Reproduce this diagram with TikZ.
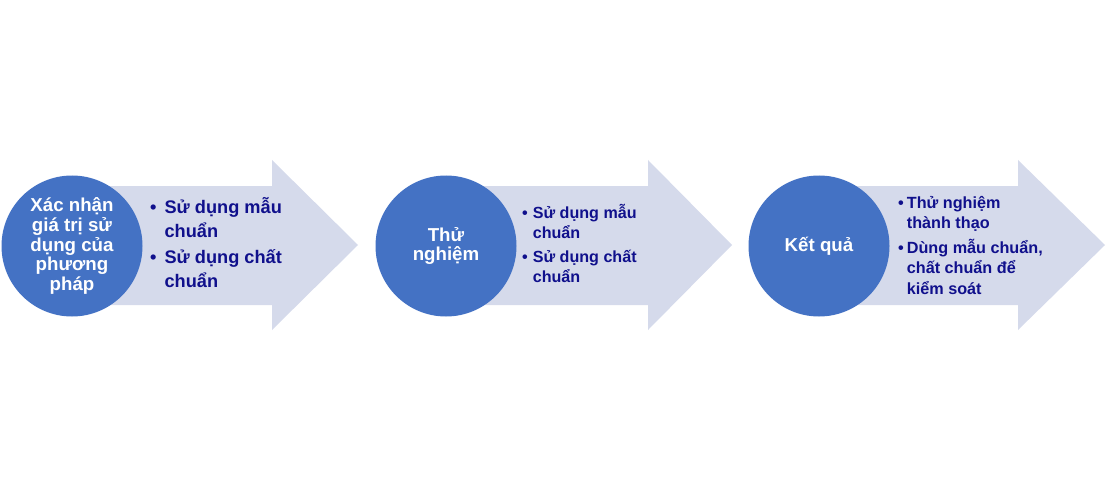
\documentclass[tikz,border=0pt]{standalone}
\usepackage{fontspec}
\setmainfont{Liberation Sans}
\definecolor{circblue}{HTML}{4472C4}
\definecolor{arrowgrey}{HTML}{D5DAEB}
\definecolor{navytext}{RGB}{16,16,140}
\begin{document}
\begin{tikzpicture}[x=1pt,y=1pt,
  stage/.style={circle,fill=circblue,minimum size=141pt,inner sep=0pt,text=white,align=center,font=\bfseries\fontsize{18.7}{19.6}\selectfont},
  points/.style={anchor=west,inner sep=0pt,text=navytext}]
  \useasboundingbox (0,0) rectangle (1106,491);
  % arrows behind the circles
  \foreach \cx/\hx/\tx in {72/272/358,446/648/732,819/1018/1105}
  {
    \fill[arrowgrey] (\cx,186) -- (\hx,186) -- (\hx,161) -- (\tx,246) -- (\hx,331) -- (\hx,305) -- (\cx,305) -- cycle;
  }
  \node[stage] (validate) at (72,245) {Xác nhận\\giá trị sử\\dụng của\\phương\\pháp};
  \node[stage] (test) at (446,245) {Thử\\nghiệm};
  \node[stage] (result) at (819,245) {Kết quả};
  \node[points,font=\bfseries\fontsize{18.2}{24}\selectfont] (validatepts) at (150,245)
    {\begin{tabular}{@{}l@{\hspace{8pt}}l@{}}\textbullet & Sử dụng mẫu\\ & chuẩn\\[2pt] \textbullet & Sử dụng chất\\ & chuẩn\end{tabular}};
  \node[points,font=\bfseries\fontsize{16.1}{20}\selectfont] (testpts) at (522,245)
    {\begin{tabular}{@{}l@{\hspace{5pt}}l@{}}\textbullet & Sử dụng mẫu\\ & chuẩn\\[4pt] \textbullet & Sử dụng chất\\ & chuẩn\end{tabular}};
  \node[points,font=\bfseries\fontsize{16.2}{20.5}\selectfont] (resultpts) at (898,244)
    {\begin{tabular}{@{}l@{\hspace{3pt}}l@{}}\textbullet & Thử nghiệm\\ & thành thạo\\[4pt] \textbullet & Dùng mẫu chuẩn,\\ & chất chuẩn để\\ & kiểm soát\end{tabular}};
\end{tikzpicture}
\end{document}
